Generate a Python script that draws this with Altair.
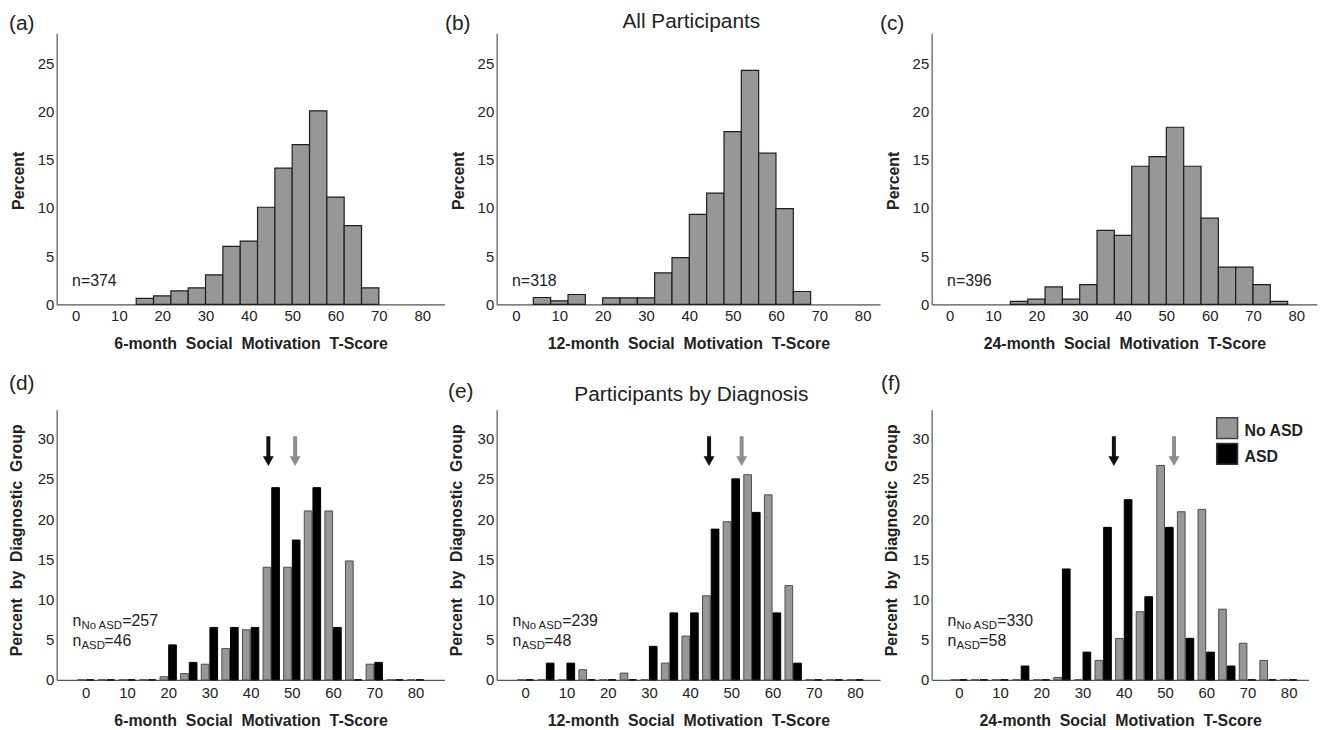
import altair as alt
import pandas as pd

FONT = "Liberation Sans"
TEXT = "#222222"
AXIS = "#555555"
BAR_GRAY = "#989696"
BAR_EDGE = "#1e1e1e"
GRP_EDGE_GRAY = "#4d4d4d"
ARROW_GRAY = "#8e8e8e"

# ---------------- data ----------------
ages = ["6-month", "12-month", "24-month"]
n_all = [374, 318, 396]
n_no_asd = [257, 239, 330]
n_asd = [46, 48, 58]

# top row: all participants (bin width 4, bin centres)
a_centers = [16, 20, 24, 28, 32, 36, 40, 44, 48, 52, 56, 60, 64, 68]
a_pct = [0.62, 0.89, 1.41, 1.72, 3.06, 6.02, 6.57, 10.08, 14.13, 16.57, 20.08, 11.14, 8.18, 1.72]
b_centers = [6, 10, 14, 22, 26, 30, 34, 38, 42, 46, 50, 54, 58, 62, 66]
b_pct = [0.72, 0.38, 1.03, 0.69, 0.69, 0.69, 3.28, 4.86, 9.34, 11.55, 17.93, 24.28, 15.69, 9.93, 1.34]
c_centers = [16, 20, 24, 28, 32, 36, 40, 44, 48, 52, 56, 60, 64, 68, 72, 76]
c_pct = [0.31, 0.55, 1.82, 0.55, 2.06, 7.68, 7.17, 14.33, 15.33, 18.38, 14.33, 8.95, 3.88, 3.88, 2.06, 0.31]

# bottom row: by diagnosis (bin width 5, bin centres 0..80)
group_centers = [0, 5, 10, 15, 20, 25, 30, 35, 40, 45, 50, 55, 60, 65, 70, 75, 80]
d_no_asd = [0, 0, 0, 0, 0.39, 0.78, 1.95, 3.89, 6.23, 14.01, 14.01, 21.01, 21.01, 14.79, 1.95, 0, 0]
d_asd = [0, 0, 0, 0, 4.35, 2.17, 6.52, 6.52, 6.52, 23.91, 17.39, 23.91, 6.52, 0, 2.17, 0, 0]
e_no_asd = [0, 0, 0, 1.26, 0, 0.84, 0, 2.09, 5.44, 10.46, 19.67, 25.52, 23.01, 11.72, 0, 0, 0]
e_asd = [0, 2.08, 2.08, 0, 0, 0, 4.17, 8.33, 8.33, 18.75, 25.0, 20.83, 8.33, 2.08, 0, 0, 0]
f_no_asd = [0, 0, 0, 0, 0, 0.30, 0, 2.42, 5.15, 8.48, 26.67, 20.91, 21.21, 8.79, 4.55, 2.42, 0]
f_asd = [0, 0, 0, 1.72, 0, 13.79, 3.45, 18.97, 22.41, 10.34, 18.97, 5.17, 3.45, 1.72, 0, 0, 0]

mean_groups = ["ASD", "No ASD"]
d_mean = [44.3, 50.8]
e_mean = [44.6, 52.5]
f_mean = [37.6, 52.2]

groups = ["No ASD", "ASD"]
x_ticks = [0, 10, 20, 30, 40, 50, 60, 70, 80]
top_y_ticks = [0, 5, 10, 15, 20, 25]
bot_y_ticks = [0, 5, 10, 15, 20, 25, 30]

# ---------------- layout ----------------
COL_W = [390.5, 386, 388]
TOP_H = 273
BOT_H = 272
TOP_PPU = 4.3625      # pixels per T-score unit, top row
BOT_PPU = 4.15        # pixels per T-score unit, bottom row
TOP_YDOM = [0, 28.12]
BOT_YDOM = [0, 33.6]


def xdom(left, width, ppu):
    return [left, left + width / ppu]


def sp(s):
    return s.replace(" ", "\u00a0 ")


def x_axis(age, title_y, pad):
    return alt.Axis(values=x_ticks, ticks=False, grid=False, domainColor=AXIS, domainWidth=1.2,
                    labelFont=FONT, labelFontSize=15, labelColor=TEXT, labelPadding=pad,
                    labelFlush=False, labelOverlap=False,
                    title=sp(f"{age} Social Motivation T-Score"), titleFont=FONT, titleFontSize=16,
                    titleFontWeight="bold", titleColor=TEXT, titleY=title_y, titleBaseline="alphabetic")


def y_axis(title, values, title_x, title_y):
    return alt.Axis(values=values, ticks=False, grid=False, domainColor=AXIS, domainWidth=1.2,
                    labelFont=FONT, labelFontSize=15, labelColor=TEXT, labelPadding=3,
                    labelOverlap=False, labelFlush=False,
                    title=title, titleFont=FONT, titleFontSize=16, titleFontWeight="bold",
                    titleColor=TEXT, titleX=title_x, titleY=title_y, titleAngle=-90,
                    titleAlign="center", titleBaseline="alphabetic")


def text(t, x, y, size=16, weight="normal", align="left", baseline="alphabetic"):
    return alt.Chart(pd.DataFrame({"t": [t]})).mark_text(
        font=FONT, fontSize=size, fontWeight=weight, color=TEXT, align=align, baseline=baseline
    ).encode(x=alt.value(x), y=alt.value(y), text="t:N")


def top_panel(centers, pct, age, n, label, lx, left, width, title=None):
    df = pd.DataFrame({"center": centers, "pct": pct})
    bars = alt.Chart(df).transform_calculate(
        x0="datum.center - 2", x1="datum.center + 2", zero="0"
    ).mark_rect(fill=BAR_GRAY, stroke=BAR_EDGE, strokeWidth=1.2).encode(
        x=alt.X("x0:Q", scale=alt.Scale(domain=xdom(left, width, TOP_PPU), nice=False, zero=False),
                axis=x_axis(age, 44, 4)),
        x2="x1:Q",
        y=alt.Y("pct:Q", scale=alt.Scale(domain=TOP_YDOM, nice=False, zero=False),
                axis=y_axis("Percent", top_y_ticks, -33, 148)),
        y2="zero:Q",
    )
    layers = [bars, text(f"n={n}", 15.5, 254.5), text(label, lx, -3, size=21)]
    if title:
        layers.append(text(title, 196, -5, size=21, align="center"))
    return alt.layer(*layers).properties(width=width, height=TOP_H)


def bottom_panel(no_asd, asd, means, age, n1, n2, label, lx, ly, left, width, title=None, legend=False):
    df = pd.DataFrame({
        "center": group_centers + group_centers,
        "pct": no_asd + asd,
        "group": ["No ASD"] * len(group_centers) + ["ASD"] * len(group_centers),
    })
    color_scale = alt.Scale(domain=groups, range=[BAR_GRAY, "#000000"])
    bars = alt.Chart(df).transform_calculate(
        x0="datum.group == 'No ASD' ? datum.center - 1.98 : datum.center + 0.12",
        x1="datum.group == 'No ASD' ? datum.center - 0.12 : datum.center + 1.98",
        zero="0",
    ).mark_rect(strokeWidth=1).encode(
        x=alt.X("x0:Q", scale=alt.Scale(domain=xdom(left, width, BOT_PPU), nice=False, zero=False),
                axis=x_axis(age, 45.5, 6)),
        x2="x1:Q",
        y=alt.Y("pct:Q", scale=alt.Scale(domain=BOT_YDOM, nice=False, zero=False),
                axis=y_axis(sp("Percent by Diagnostic Group"), bot_y_ticks, -35, 131)),
        y2="zero:Q",
        fill=alt.Fill("group:N", scale=color_scale, legend=None),
        stroke=alt.Stroke("group:N", scale=alt.Scale(domain=groups, range=[GRP_EDGE_GRAY, "#000000"]),
                          legend=None),
    )
    mdf = pd.DataFrame({"group": mean_groups, "mean": means})
    arrow_scale = alt.Scale(domain=groups, range=[ARROW_GRAY, "#111111"])
    shaft = alt.Chart(mdf).transform_calculate(ytop="30.3", ybot="27.6").mark_rule(
        strokeWidth=4
    ).encode(
        x="mean:Q", y="ytop:Q", y2="ybot:Q",
        color=alt.Color("group:N", scale=arrow_scale, legend=None),
    )
    head = alt.Chart(mdf).transform_calculate(yh="27.2").mark_point(
        shape="M-1,-0.9L1,-0.9L0,0.9Z", filled=True, size=121, opacity=1, strokeWidth=0
    ).encode(
        x="mean:Q", y="yh:Q",
        color=alt.Color("group:N", scale=arrow_scale, legend=None),
    )
    layers = [bars, shaft, head,
              text("n", 16, 217.7), text("No ASD", 25, 221, size=11.5), text(f"={n1}", 66, 217.7),
              text("n", 16, 237.7), text("ASD", 25, 240.5, size=11.5), text(f"={n2}", 48, 237.7),
              text(label, lx, ly, size=21)]
    if title:
        layers.append(text(title, 196, -9, size=21, align="center"))
    if legend:
        sq1 = alt.Chart(pd.DataFrame({"t": ["No ASD"]})).mark_square(
            size=441, fill=BAR_GRAY, stroke="#444444", strokeWidth=1.5, opacity=1
        ).encode(x=alt.value(297.5), y=alt.value(18.5))
        sq2 = alt.Chart(pd.DataFrame({"t": ["ASD"]})).mark_square(
            size=441, fill="#000000", stroke="#333333", strokeWidth=1.5, opacity=1
        ).encode(x=alt.value(297.5), y=alt.value(44.5))
        layers += [sq1, sq2, text("No ASD", 315, 26.5, weight="bold"), text("ASD", 315, 52.5, weight="bold")]
    return alt.layer(*layers).properties(width=width, height=BOT_H)


pa = top_panel(a_centers, a_pct, ages[0], n_all[0], "(a)", -48, -4.36, COL_W[0])
pb = top_panel(b_centers, b_pct, ages[1], n_all[1], "(b)", -52, -4.47, COL_W[1], title="All Participants")
pc = top_panel(c_centers, c_pct, ages[2], n_all[2], "(c)", -52, -4.17, COL_W[2])

pd_ = bottom_panel(d_no_asd, d_asd, d_mean, ages[0], n_no_asd[0], n_asd[0], "(d)", -48, -20,
                   -7.06, COL_W[0])
pe = bottom_panel(e_no_asd, e_asd, e_mean, ages[1], n_no_asd[1], n_asd[1], "(e)", -49, -12,
                  -6.94, COL_W[1], title="Participants by Diagnosis")
pf = bottom_panel(f_no_asd, f_asd, f_mean, ages[2], n_no_asd[2], n_asd[2], "(f)", -51, -20,
                  -6.61, 379.5, legend=True)

chart = alt.concat(pa, pb, pc, pd_, pe, pf, columns=3, spacing={"row": 106, "column": 52},
                   bounds="flush").properties(
    padding={"left": 0, "top": 0, "right": 0, "bottom": 0}
).configure_view(stroke="transparent")

chart.save("out.html", embed_options={"renderer": "svg", "actions": False})
